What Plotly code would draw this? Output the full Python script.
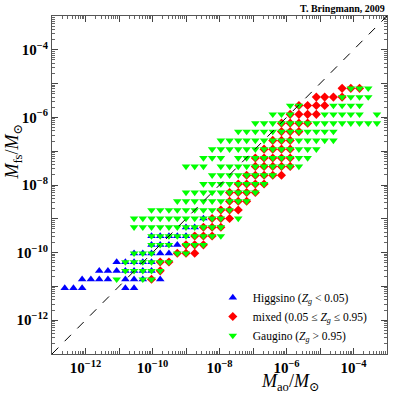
import plotly.graph_objects as go

# grid positions (log10 of mass)
GRID_X = [-12.62, -12.36, -12.10, -11.84, -11.59, -11.33, -11.07, -10.81, -10.55, -10.29,
          -10.03, -9.77, -9.51, -9.26, -9.00, -8.74, -8.48, -8.22, -7.96, -7.70,
          -7.44, -7.19, -6.93, -6.67, -6.41, -6.15, -5.89, -5.63, -5.37, -5.11,
          -4.86, -4.60, -4.34, -4.08, -3.82, -3.56, -3.30]
GRID_Y = [-11.05, -10.79, -10.54, -10.28, -10.02, -9.77, -9.51, -9.25, -8.99, -8.74,
          -8.48, -8.22, -7.97, -7.71, -7.45, -7.20, -6.94, -6.68, -6.42, -6.17,
          -5.91, -5.65, -5.40, -5.14]

# row index -> column indices occupied by each class
HIGGSINO = {
    0: [0, 1, 2, 7, 8],
    1: [2, 3, 4, 5, 7, 8, 9, 11],
    2: [4, 5, 6, 7, 8, 9, 10],
    3: [6, 7, 8, 9, 10],
    4: [8, 9, 10, 11, 12],
    5: [10, 11, 12, 13],
    6: [10, 11, 12, 13, 14],
    7: [14, 15],
    8: [16],
}
MIXED = {
    1: [10],
    2: [11],
    3: [11, 12],
    4: [13, 14, 15],
    5: [14, 15, 16],
    6: [15, 16, 17],
    7: [16, 17, 18],
    8: [17, 18, 19],
    9: [18, 19, 20],
    10: [19, 20, 21],
    11: [19, 20, 21, 22],
    12: [20, 21, 22, 23],
    13: [21, 22, 23, 24, 25],
    14: [22, 23, 24, 25, 26],
    15: [22, 23, 24, 25, 26],
    16: [23, 24, 25, 26],
    17: [24, 25, 26],
    18: [25, 26, 27],
    19: [25, 26, 27, 28],
    20: [26, 27, 28, 29],
    21: [27, 28, 29, 30],
    22: [29, 30, 31, 32],
    23: [32, 33, 34],
}
GAUGINO = {
    1: [6, 9, 10],
    2: [7, 8, 9, 10, 11],
    3: [7, 8, 9, 10, 11, 12],
    4: [8, 9, 10, 13, 14],
    5: [10, 11, 12, 14, 15, 16],
    6: [10, 11, 12, 13, 14, 15, 16, 17, 18],
    7: [8, 9, 10, 11, 12, 13, 14, 15, 16, 17, 18],
    8: [8, 9, 10, 11, 12, 13, 14, 15, 16, 17, 18, 20],
    9: [10, 11, 12, 13, 14, 15, 16, 17, 18, 19],
    10: [13, 14, 15, 16, 17, 18, 19, 20, 21],
    11: [14, 15, 16, 17, 18, 19, 20, 21, 22],
    12: [16, 17, 18, 19, 20, 21, 22, 23],
    13: [17, 18, 19, 20, 21, 22, 23, 24],
    14: [14, 15, 16, 18, 19, 20, 21, 22, 23, 24, 25, 26, 27],
    15: [16, 17, 18, 20, 21, 22, 23, 24, 25, 26, 27, 28],
    16: [17, 18, 19, 20, 21, 22, 23, 24, 25, 26, 27, 28, 29],
    17: [18, 19, 20, 21, 22, 23, 24, 25, 26, 27, 28, 29, 30, 31],
    18: [20, 21, 22, 23, 24, 25, 26, 27, 28, 29, 30, 31],
    19: [22, 23, 24, 25, 26, 27, 28, 29, 30, 31, 32, 33, 34, 35, 36],
    20: [24, 25, 26, 30, 31, 32, 33, 34, 36],
    21: [26, 27, 31, 32, 33, 34],
    22: [32, 33, 34, 35],
    23: [33, 34, 35],
}

AXIS_RANGE = [-13, -3]
DIAGONAL = [1e-13, 1e-3]
DECADES = [-13, -12, -11, -10, -9, -8, -7, -6, -5, -4, -3]
LABELED = [-12, -10, -8, -6, -4]

FONT = "Liberation Serif, DejaVu Serif, serif"


def points(rows):
    xs, ys = [], []
    for j, cols in rows.items():
        for i in cols:
            xs.append(10 ** GRID_X[i])
            ys.append(10 ** GRID_Y[j])
    return xs, ys


fig = go.Figure()

# the y = x reference line sits on the overlay axes (same range) so they get drawn
fig.add_trace(go.Scatter(x=DIAGONAL, y=DIAGONAL, mode="lines", showlegend=False,
                         xaxis="x2", yaxis="y2",
                         line=dict(color="black", width=1, dash="dash"), hoverinfo="skip"))

series = [
    (HIGGSINO, "Higgsino (<i>Z<sub>g</sub></i> < 0.05)", "triangle-up", "#0000ff", 7.5),
    (MIXED, "mixed (0.05 ≤ <i>Z<sub>g</sub></i> ≤ 0.95)", "diamond", "#ff0000", 7),
    (GAUGINO, "Gaugino (<i>Z<sub>g</sub></i> > 0.95)", "triangle-down", "#00ff00", 7.5),
]
for rows, name, sym, col, size in series:
    xs, ys = points(rows)
    fig.add_trace(go.Scatter(x=xs, y=ys, mode="markers", name=name,
                             marker=dict(symbol=sym, color=col, size=size, line=dict(width=0))))

# labelled axes: even decades only, plus minor ticks
axis = dict(type="log", range=AXIS_RANGE, tickmode="array",
            tickvals=[10 ** d for d in LABELED],
            ticktext=["<b>10<sup>−%d</sup></b>" % (-d) for d in LABELED],
            ticks="inside", ticklen=6, tickcolor="#444", mirror="ticks", showline=True,
            linecolor="#555", linewidth=1, showgrid=False, zeroline=False,
            tickfont=dict(family=FONT, size=15, color="black"),
            minor=dict(ticks="inside", ticklen=3, tickcolor="#666", dtick="D1", showgrid=False))

# unlabelled overlay axes: a major tick at every decade
overlay = dict(type="log", range=AXIS_RANGE, tickmode="array",
               tickvals=[10 ** d for d in DECADES], showticklabels=False,
               ticks="inside", ticklen=6, tickcolor="#444", mirror="ticks", showline=False,
               showgrid=False, zeroline=False)

fig.update_layout(
    width=394, height=399,
    margin=dict(l=52, r=7, t=16, b=45),
    plot_bgcolor="white", paper_bgcolor="white",
    xaxis=axis, yaxis=axis,
    xaxis2=dict(overlay, overlaying="x", side="bottom"),
    yaxis2=dict(overlay, overlaying="y", side="left"),
    font=dict(family=FONT, color="black"),
    legend=dict(x=0.48, y=0.21, xanchor="left", yanchor="top", bgcolor="rgba(0,0,0,0)",
                font=dict(family=FONT, size=11.5), itemwidth=30, tracegroupgap=0),
    annotations=[
        dict(text="<b>T. Bringmann, 2009</b>", xref="paper", yref="paper", x=1.0, y=1.0,
             xanchor="right", yanchor="bottom", showarrow=False, font=dict(size=10, family=FONT)),
        dict(text="<i>M</i><sub>ao</sub>/<i>M</i><sub>⊙</sub>", xref="paper", yref="paper",
             x=0.71, y=-0.045, xanchor="center", yanchor="top", showarrow=False,
             font=dict(size=18, family=FONT)),
        dict(text="<i>M</i><sub>fs</sub>/<i>M</i><sub>⊙</sub>", xref="paper", yref="paper",
             x=-0.075, y=0.6, xanchor="right", yanchor="middle", textangle=-90, showarrow=False,
             font=dict(size=18, family=FONT)),
    ],
)

# the page body has a default 8px margin; drop it so the figure fills the window exactly
fig.write_html("out.html", config={"displayModeBar": False},
               post_script="document.body.style.margin='0';")
